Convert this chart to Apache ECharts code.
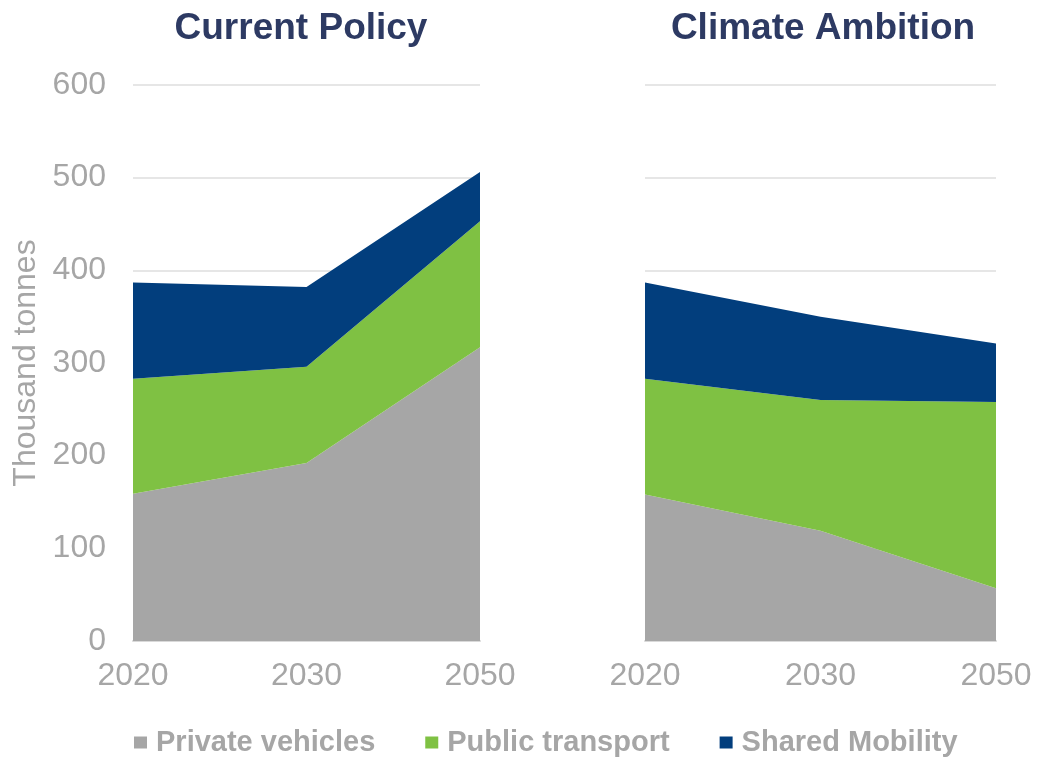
<!DOCTYPE html>
<html>
<head>
<meta charset="utf-8">
<script src="https://cdn.jsdelivr.net/npm/echarts@6/dist/echarts.min.js"></script>
<style>
  html, body { margin: 0; padding: 0; background: #ffffff; }
  #chart { width: 1038px; height: 757px; }
</style>
</head>
<body>
<div id="chart"></div>
<script>
// Years shown on both panels
const years = ['2020', '2030', '2050'];
const panelTitles = ['Current Policy', 'Climate Ambition'];
const seriesNames = ['Private vehicles', 'Public transport', 'Shared Mobility'];
const yTicks = [0, 100, 200, 300, 400, 500, 600];

// Current Policy scenario (thousand tonnes, stacked)
const currentPrivate = [159, 192, 317];
const currentPublic = [124, 104, 136];
const currentShared = [104, 86, 53];

// Climate Ambition scenario (thousand tonnes, stacked)
const ambitionPrivate = [158, 119, 57];
const ambitionPublic = [125, 141, 201];
const ambitionShared = [104, 90, 63];

const colors = ['#a6a6a6', '#7fc143', '#023e7d'];
const font = '"Liberation Sans", Arial, sans-serif';
const grey = '#a6a6a6';

const chart = echarts.init(document.getElementById('chart'), null, { renderer: 'canvas' });

function xAxis(gridIndex) {
  return {
    type: 'category', gridIndex, data: years, boundaryGap: false,
    axisTick: { show: false },
    axisLine: { lineStyle: { color: '#d9d9d9', width: 2 } },
    axisLabel: { color: grey, fontSize: 32, fontFamily: font, margin: 19 },
    splitLine: { show: false }
  };
}

function yAxis(gridIndex, showLabels) {
  return {
    type: 'value', gridIndex, min: yTicks[0], max: yTicks[yTicks.length - 1], interval: 100,
    axisLine: { show: false }, axisTick: { show: false },
    axisLabel: { show: showLabels, color: grey, fontSize: 32, fontFamily: font, margin: 27 },
    splitLine: { lineStyle: { color: '#e6e6e6', width: 2 } },
    name: showLabels ? 'Thousand tonnes' : '',
    nameLocation: 'middle', nameGap: 91,
    nameTextStyle: { color: grey, fontSize: 32, fontFamily: font }
  };
}

function area(name, data, idx, color) {
  return {
    name, type: 'line', stack: 'total' + idx, data,
    xAxisIndex: idx, yAxisIndex: idx,
    symbol: 'none', showSymbol: false,
    lineStyle: { width: 0 },
    areaStyle: { color, opacity: 1 },
    itemStyle: { color },
    emphasis: { disabled: true },
    animation: false
  };
}

const option = {
  animation: false,
  color: colors,
  title: [
    { text: panelTitles[0], left: 296, top: 5, textAlign: 'center',
      textStyle: { color: '#2d3a63', fontSize: 37, fontWeight: 'bold', fontFamily: font } },
    { text: panelTitles[1], left: 818, top: 5, textAlign: 'center',
      textStyle: { color: '#2d3a63', fontSize: 37, fontWeight: 'bold', fontFamily: font } }
  ],
  legend: {
    data: seriesNames, left: 129, top: 723,
    itemWidth: 13, itemHeight: 12, itemGap: 50,
    icon: 'rect',
    textStyle: { color: grey, fontSize: 29, fontWeight: 'bold', fontFamily: font, padding: [0, 0, 0, 4] }
  },
  grid: [
    { left: 133, right: 558, top: 85, bottom: 116 },
    { left: 645, right: 42, top: 85, bottom: 116 }
  ],
  xAxis: [xAxis(0), xAxis(1)],
  yAxis: [yAxis(0, true), yAxis(1, false)],
  series: [
    area(seriesNames[0], currentPrivate, 0, colors[0]),
    area(seriesNames[1], currentPublic, 0, colors[1]),
    area(seriesNames[2], currentShared, 0, colors[2]),
    area(seriesNames[0], ambitionPrivate, 1, colors[0]),
    area(seriesNames[1], ambitionPublic, 1, colors[1]),
    area(seriesNames[2], ambitionShared, 1, colors[2])
  ]
};

chart.setOption(option);
</script>
</body>
</html>
